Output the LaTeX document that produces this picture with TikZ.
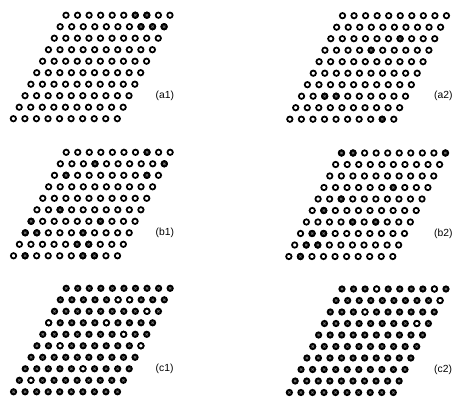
\documentclass[tikz,border=0pt]{standalone}
\usepackage{fontspec}
\setmainfont{Liberation Sans}
\tikzset{
  opc/.pic={\draw[line width=1.75pt, fill=white] (0,0) circle (2.7pt);},
  flc/.pic={\draw[line width=1.75pt, fill=black!85] (0,0) circle (2.7pt);
            \draw[black!45, line width=0.4pt] (-1.1pt,-1.1pt) -- (1.1pt,1.1pt) (-1.1pt,1.1pt) -- (1.1pt,-1.1pt);},
  lbl/.style={anchor=west, inner sep=0pt, font=\fontsize{10.3}{12}\selectfont}
}
\newcommand\cellat[5]{\pic at ({#1+(#4-1)*11.55-(#3-1)*5.85},{#2+(#3-1)*11.5}) {#5};}
\newcommand\lattice[3]{\foreach \rr in {1,...,10}{\foreach \cc in {1,...,10}{\cellat{#1}{#2}{\rr}{\cc}{#3}}}}
\begin{document}
\begin{tikzpicture}[x=1pt,y=-1pt]
\useasboundingbox (0,0) rectangle (452,398);
% (a1)
\lattice{66}{15.2}{opc}
\foreach \r/\c in {1/7,1/8,2/8,2/9,2/10}{\cellat{66}{15.2}{\r}{\c}{flc}}
\node[lbl] (la1) at (155.5,95.7) {(a1)};
% (a2)
\lattice{342.5}{15.7}{opc}
\foreach \r/\c in {3/7,4/5,8/3,8/4,10/9}{\cellat{342.5}{15.7}{\r}{\c}{flc}}
\node[lbl] (la2) at (434,96.2) {(a2)};
% (b1)
\lattice{66.2}{152.3}{opc}
\foreach \r/\c in {1/8,2/4,2/10,3/2,3/9,6/3,7/1,7/7,8/1,8/2,8/6,9/6,9/7,10/2,10/7,10/8}{\cellat{66.2}{152.3}{\r}{\c}{flc}}
\node[lbl] (lb1) at (155.5,232.8) {(b1)};
% (b2)
\lattice{341.5}{153}{opc}
\foreach \r/\c in {1/1,1/2,1/10,4/7,5/3,6/2,7/5,7/7,8/2,8/3,9/2,9/3,10/2}{\cellat{341.5}{153}{\r}{\c}{flc}}
\node[lbl] (lb2) at (434,233.5) {(b2)};
% (c1)
\lattice{66.2}{288.3}{flc}
\foreach \r/\c in {2/6,2/7,3/9,4/1,4/6,5/8,6/3,6/10,8/6,9/2}{\cellat{66.2}{288.3}{\r}{\c}{opc}}
\node[lbl] (lc1) at (155.5,368.8) {(c1)};
% (c2)
\lattice{342}{289}{flc}
\foreach \r/\c in {1/4,1/9,2/10,3/4,4/9}{\cellat{342}{289}{\r}{\c}{opc}}
\node[lbl] (lc2) at (434,369.5) {(c2)};
\end{tikzpicture}
\end{document}
